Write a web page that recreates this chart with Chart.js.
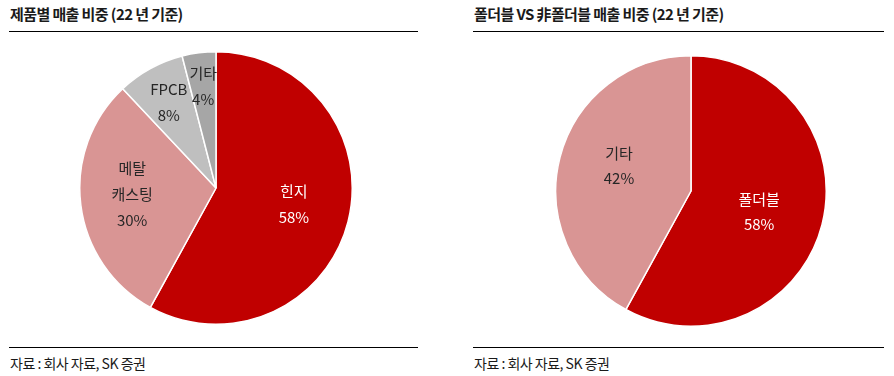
<!DOCTYPE html>
<html>
<head>
<meta charset="utf-8">
<script src="https://cdn.jsdelivr.net/npm/chart.js@4"></script>
<style>
  html, body { margin: 0; padding: 0; background: #fff; }
  body { width: 894px; height: 376px; position: relative; overflow: hidden;
         font-family: "Noto Sans CJK KR", "Noto Sans", sans-serif; color: #1a1a1a; }
  .title { position: absolute; top: 3px; font-size: 15px; font-weight: bold; letter-spacing: -0.6px; white-space: nowrap; }
  .rule { position: absolute; height: 0; border-top: 1.5px solid #000; }
  .src { position: absolute; top: 353px; font-size: 14px; letter-spacing: -0.5px; white-space: nowrap; }
  .box { position: absolute; }
</style>
</head>
<body>
<div class="title" style="left:10px;">제품별 매출 비중 (22 년 기준)</div>
<div class="rule" style="left:9px; width:409px; top:31px;"></div>
<div class="rule" style="left:9px; width:409px; top:347px;"></div>
<div class="src" style="left:10px;">자료 : 회사 자료, SK 증권</div>

<div class="title" style="left:474px;">폴더블 VS 非폴더블 매출 비중 (22 년 기준)</div>
<div class="rule" style="left:473px; width:411px; top:31px;"></div>
<div class="rule" style="left:473px; width:411px; top:347px;"></div>
<div class="src" style="left:474px;">자료 : 회사 자료, SK 증권</div>

<div class="box" style="left:79px; top:51px; width:274px; height:274px;"><canvas id="c1"></canvas></div>
<div class="box" style="left:555px; top:55px; width:272px; height:272px;"><canvas id="c2"></canvas></div>

<script>
// ---- data ----
const productLabels = [['힌지'], ['메탈', '캐스팅'], ['FPCB'], ['기타']];
const productShares = [58, 30, 8, 4];
const foldLabels = [['폴더블'], ['기타']];
const foldShares = [58, 42];

const RED = '#C00000', PINK = '#D99594', LGRAY = '#BFBFBF', DGRAY = '#A6A6A6';

const sliceLabels = {
  id: 'sliceLabels',
  afterDatasetsDraw(chart, args, opts) {
    const ctx = chart.ctx;
    const meta = chart.getDatasetMeta(0);
    const data = chart.data.datasets[0].data;
    ctx.save();
    ctx.font = '15px "Noto Sans CJK KR", "Noto Sans", sans-serif';
    ctx.textAlign = 'center';
    ctx.textBaseline = 'middle';
    meta.data.forEach((arc, i) => {
      const p = arc.getProps(['x', 'y', 'startAngle', 'endAngle', 'outerRadius'], true);
      const mid = (p.startAngle + p.endAngle) / 2;
      const f = opts.radii[i];
      const cx = p.x + Math.cos(mid) * p.outerRadius * f + (opts.dx ? opts.dx[i] : 0);
      const cy = p.y + Math.sin(mid) * p.outerRadius * f + (opts.dy ? opts.dy[i] : 0);
      const lines = [].concat(chart.data.labels[i], data[i] + '%');
      const lh = opts.lineHeight;
      const y0 = cy - (lines.length - 1) * lh / 2;
      ctx.fillStyle = opts.colors[i];
      lines.forEach((t, k) => ctx.fillText(t, cx, y0 + k * lh));
    });
    ctx.restore();
  }
};

function makePie(id, labels, values, colors, labelOpts) {
  return new Chart(document.getElementById(id), {
    type: 'pie',
    data: { labels: labels, datasets: [{ data: values, backgroundColor: colors, borderColor: '#ffffff', borderWidth: 1.5 }] },
    options: {
      responsive: true, maintainAspectRatio: false, animation: false,
      layout: { padding: 0 },
      plugins: { legend: { display: false }, tooltip: { enabled: false }, sliceLabels: labelOpts }
    },
    plugins: [sliceLabels]
  });
}

makePie('c1', productLabels, productShares, [RED, PINK, LGRAY, DGRAY],
  { radii: [0.59, 0.62, 0.72, 0.75], dx: [0, 0, 0, 0], dy: [-4, -4, 0, 0], lineHeight: 26,
    colors: ['#ffffff', '#262626', '#262626', '#262626'] });
makePie('c2', foldLabels, foldShares, [RED, PINK],
  { radii: [0.52, 0.58], dx: [0, 4], dy: [3, -6], lineHeight: 25,
    colors: ['#ffffff', '#262626'] });
</script>
</body>
</html>
